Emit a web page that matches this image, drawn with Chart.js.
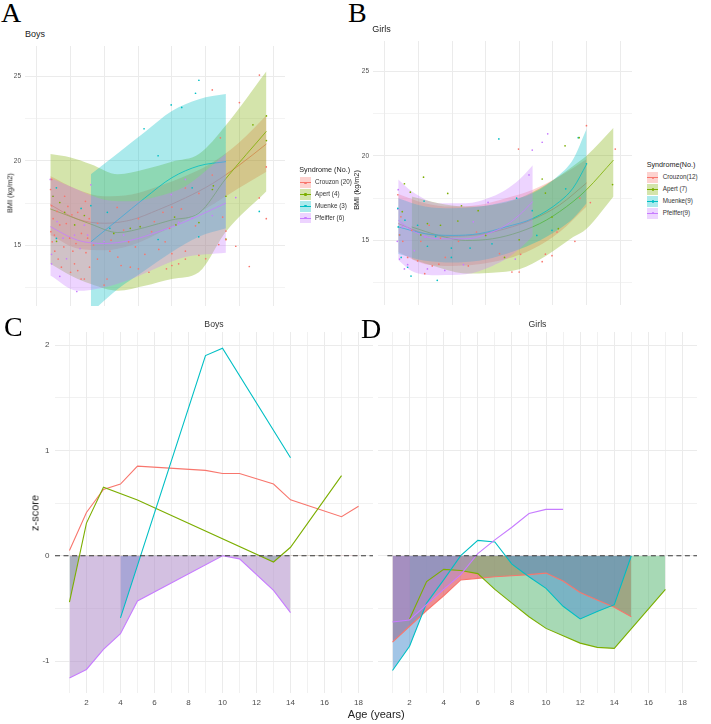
<!DOCTYPE html>
<html><head><meta charset="utf-8">
<script src="https://cdn.jsdelivr.net/npm/chart.js@4.4.1/dist/chart.umd.min.js"></script>
<style>
html,body{margin:0;padding:0;background:#fff}
body{width:711px;height:724px;position:relative;overflow:hidden;font-family:"Liberation Sans",Arial,Helvetica,sans-serif;color:#222}
canvas{position:absolute}
.t{position:absolute;white-space:nowrap;line-height:1;font-weight:400}
.big{font-family:"Liberation Serif","Times New Roman",serif;font-size:28px;color:#000}
.rot{transform:translate(-50%,-50%) rotate(-90deg)}
.ctr{transform:translateX(-50%)}
.key{position:absolute;width:11px;height:10.5px}
.key i{position:absolute;left:0;right:0;top:4.9px;height:0.8px}
.key b{position:absolute;left:4.4px;top:4.2px;width:2.2px;height:2.2px;border-radius:50%}
</style></head>
<body>
<canvas id="cA" width="289" height="268" style="left:0px;top:42px;width:289px;height:268px"></canvas>
<canvas id="cB" width="288" height="272" style="left:348px;top:37px;width:288px;height:272px"></canvas>
<canvas id="cC" width="353" height="379" style="left:20px;top:332px;width:353px;height:379px"></canvas>
<canvas id="cD" width="319" height="379" style="left:378px;top:332px;width:319px;height:379px"></canvas>

<div class="t big" style="left:1px;top:-1px">A</div>
<div class="t big" style="left:348px;top:-1px">B</div>
<div class="t big" style="left:4px;top:312.5px">C</div>
<div class="t big" style="left:361px;top:314.5px">D</div>

<div class="t" style="left:25px;top:29.7px;font-size:9px">Boys</div>
<div class="t" style="left:372.3px;top:24.7px;font-size:9px">Girls</div>
<div class="t ctr" style="left:214px;top:319.7px;font-size:8.7px;color:#333">Boys</div>
<div class="t ctr" style="left:537.5px;top:319.7px;font-size:8.7px;color:#333">Girls</div>

<div class="t rot" style="left:10px;top:193px;font-size:7.3px">BMI (kg/m2)</div>
<div class="t rot" style="left:357px;top:190px;font-size:7.3px">BMI (kg/m2)</div>
<div class="t rot" style="left:34.7px;top:512.5px;font-size:11px">z-score</div>
<div class="t ctr" style="left:376.3px;top:709.2px;font-size:11px">Age (years)</div>

<div id="legA"></div>
<div id="legB"></div>

<script>
// ---------- colours ----------
const COL = {crouzon:'#F8766D', apert:'#7CAE00', muenke:'#00BFC4', pfeiffer:'#C77CFF'};
const RIB = {crouzon:'rgba(248,118,109,0.33)', apert:'rgba(124,174,0,0.33)', muenke:'rgba(0,191,196,0.33)', pfeiffer:'rgba(199,124,255,0.33)'};
const ZFILL = {crouzon:'rgba(220,50,60,0.55)', apert:'rgba(95,185,120,0.55)', muenke:'rgba(85,150,210,0.55)', pfeiffer:'rgba(175,140,200,0.55)'};

// ---------- Panel A: Boys BMI (smooth fit + 95% band) ----------
const aCrouzonAge = [1,3,5,7,9,11,13,15,17];
const aCrouzonFit = [17.4,16.55,16.3,16.5,17.1,17.8,18.65,19.75,21.0];
const aCrouzonLo  = [15.6,14.8,14.7,15.0,15.7,16.5,17.4,18.4,19.35];
const aCrouzonHi  = [19.1,18.3,17.9,18.0,18.5,19.1,19.9,21.1,22.7];
const aApertAge = [1,2.5,4,6,8,10,12,14,17];
const aApertFit = [17.15,16.7,16.25,15.75,16.05,16.5,16.9,18.95,21.75];
const aApertLo  = [13.9,13.2,12.7,12.3,12.6,13.0,13.4,15.8,18.2];
const aApertHi  = [20.4,20.2,19.8,19.2,19.5,19.95,20.4,22.1,25.3];
const aMuenkeAge = [4,6,8,10,12,14];
const aMuenkeFit = [15.2,16.5,17.8,19.0,19.7,19.95];
const aMuenkeLo  = [11.0,12.4,13.5,14.6,15.5,16.0];
const aMuenkeHi  = [19.2,20.45,21.7,22.95,23.65,23.95];
const aPfeifferAge = [1,3,5,7,9,11,14];
const aPfeifferFit = [16.1,15.3,15.1,15.3,15.8,16.4,17.5];
const aPfeifferLo  = [13.2,12.3,12.5,13.0,13.7,14.3,14.56];
const aPfeifferHi  = [19.0,18.3,17.7,17.6,17.9,18.5,20.4];

// Panel A observed points
const aCrouzonPtAge = [1.02,1.09,1.21,1.04,1.14,1.33,1.58,1.82,2.06,2.18,2.43,2.67,2.79,3.03,3.28,3.52,3.64,3.76,3.88,3.03,1.1,1.5,1.7,2.3,2.6,2.9,3.3,3.6,1.3,2.0,2.5,3.9,4.5,4.2,4.49,4.98,5.2,5.41,5.5,5.95,6.0,6.24,6.43,6.8,6.92,7.3,7.52,7.52,8.0,8.3,8.5,8.7,9.03,9.34,9.5,9.6,9.83,10.0,10.0,10.0,10.5,10.7,11.0,11.0,11.0,11.75,12.0,12.0,12.5,12.99,12.99,13.47,13.59,13.76,14.0,14.0,14.73,15.0,15.73,16.47,16.48,16.99,16.99];
const aCrouzonPtBmi = [18.3,17.34,16.57,15.8,15.2,14.65,14.18,13.7,17.9,16.28,15.42,14.65,13.9,13.5,13.0,13.0,14.56,15.42,16.57,16.95,18.9,17.0,16.2,17.3,16.8,15.1,15.7,17.6,15.6,14.9,13.4,13.7,16.3,15.0,14.18,12.64,13.0,14.65,15.3,17.24,14.3,13.8,15.9,15.2,13.7,14.9,13.6,16.57,14.46,13.4,15.8,16.4,14.75,16.95,15.2,13.6,16.0,17.26,14.5,13.8,13.9,17.15,18.39,14.65,14.18,16.15,18.07,14.4,14.2,19.16,24.2,15.04,21.36,16.67,15.84,15.33,14.94,23.45,13.74,17.8,25.08,19.64,16.57];
const aApertPtAge = [1.2,1.46,1.7,2.06,2.8,3.52,5.7,6.92,7.65,10.2,10.3,12.0,13.0,13.07,14.0,14.0,16.0,17.0,17.0];
const aApertPtBmi = [17.9,15.23,17.53,16.95,16.2,16.76,15.7,16.0,16.1,16.67,16.2,16.34,18.3,18.52,17.9,15.36,22.13,22.66,21.2];
const aMuenkePtAge = [1.45,1.45,3.28,4.0,5.22,5.41,7.94,8.98,8.98,9.95,10.73,11.5,11.75,11.99,12.0,16.47];
const aMuenkePtBmi = [18.4,15.4,17.18,17.34,16.95,16.0,21.9,20.3,15.34,23.31,23.16,18.4,24.0,15.5,24.77,17.0];
const aPfeifferPtAge = [1.0,1.09,1.09,1.21,1.5,1.7,1.94,2.2,2.79,2.96,3.2,3.52,3.76,4.0,4.98,6.43,9.95,10.5,11.0,11.5,12.99,14.73];
const aPfeifferPtBmi = [18.9,14.46,13.9,17.9,16.4,13.16,15.42,14.2,15.6,12.26,14.8,16.19,15.6,18.58,15.23,15.6,18.0,16.35,18.9,16.6,16.76,17.82];

// ---------- Panel B: Girls BMI ----------
const bCrouzonAge = [1,3,5,7,9,11,13,15];
const bCrouzonFit = [16.0,15.4,15.25,15.35,15.7,16.25,17.1,18.4];
const bCrouzonLo  = [14.3,13.6,13.5,13.6,13.9,14.5,15.5,17.0];
const bCrouzonHi  = [17.75,17.2,17.0,17.1,17.5,18.0,18.8,19.8];
const bApertAge = [2,4,6,8,10,12,14,15,17];
const bApertFit = [15.8,15.3,15.0,15.1,15.5,16.2,17.3,18.0,19.75];
const bApertLo  = [13.9,13.4,13.05,13.1,13.3,14.1,15.2,15.7,17.6];
const bApertHi  = [17.6,17.2,17.0,17.1,17.5,18.3,19.4,20.0,21.65];
const bMuenkeAge = [1,3,5,7,9,11,13,14,15];
const bMuenkeFit = [15.8,15.4,15.3,15.4,15.8,16.3,17.3,18.1,19.5];
const bMuenkeLo  = [14.2,13.8,13.7,13.8,14.2,14.8,15.7,16.3,17.2];
const bMuenkeHi  = [17.5,17.0,16.9,17.0,17.3,17.8,18.9,19.8,21.6];
const bPfeifferAge = [1,2,4,6,8,9,10,11];
const bPfeifferFit = [16.2,15.6,15.1,15.1,15.5,15.9,16.5,17.3];
const bPfeifferLo  = [13.85,13.2,12.95,13.0,13.5,13.9,14.5,15.25];
const bPfeifferHi  = [18.6,17.9,17.2,17.2,17.6,18.0,18.6,19.45];

const bCrouzonPtAge = [0.97,1.1,1.2,1.34,1.7,2.0,2.44,2.68,2.97,3.3,3.53,4.02,4.14,4.5,5.48,6.21,6.82,8.53,9.45,9.94,9.99,10.1,11.7,11.94,12.43,12.8,14.13,14.5,14.99,15.28,17.13];
const bCrouzonPtBmi = [17.7,15.33,16.4,14.95,14.0,15.6,13.8,14.95,13.04,15.9,13.5,13.6,15.14,14.0,14.95,13.5,15.5,14.22,13.14,20.4,13.14,14.18,13.75,14.19,14.1,15.5,14.95,17.5,21.78,17.24,20.4];
const bApertPtAge = [1.3,1.46,1.9,2.68,2.88,3.17,4.14,4.68,5.43,5.7,6.94,7.5,8.9,9.99,11.7,11.94,12.43,12.9,13.4,14.45,16.93];
const bApertPtBmi = [16.7,18.35,17.85,15.33,18.74,16.0,15.9,17.78,16.15,17.05,16.76,15.3,14.0,15.04,18.63,17.8,16.38,15.7,20.59,21.07,18.3];
const bMuenkePtAge = [0.97,1.0,1.1,1.22,1.5,1.7,1.95,2.44,2.92,3.17,3.78,3.9,4.95,4.95,6.34,7.97,8.48,9.8,10.96,11.3,12.43,13.45,14.38,14.99];
const bMuenkePtBmi = [16.9,15.8,15.33,14.0,16.2,13.42,12.9,15.9,17.33,14.66,15.24,12.65,14.55,14.0,14.55,14.8,21.0,17.5,16.76,15.3,15.6,18.05,21.07,19.53];
const bPfeifferPtAge = [0.93,0.97,1.0,1.1,1.3,1.46,1.7,2.2,3.0,3.17,4.46,5.85,6.58,7.68,9.7,10.72,10.96,11.7,12.11];
const bPfeifferPtBmi = [14.95,16.86,18.0,13.9,15.8,13.32,13.57,14.4,15.2,13.32,13.23,13.57,16.1,17.25,13.9,18.87,20.34,20.8,21.3];

// ---------- Panel C: Boys z-score ----------
const cCrouzonAge = [1,2,3,4,5,9,10,11,13,14,17,18];
const cCrouzonZ   = [0.05,0.41,0.63,0.68,0.85,0.81,0.78,0.78,0.68,0.53,0.37,0.47];
const cApertAge = [1,2,3,5,13,14,17];
const cApertZ   = [-0.44,0.31,0.65,0.53,-0.06,0.08,0.76];
const cMuenkeAge = [4,9,10,14];
const cMuenkeZ   = [-0.59,1.9,1.97,0.93];
const cPfeifferAge = [1,2,3,4,5,10,11,13,14];
const cPfeifferZ   = [-1.16,-1.08,-0.89,-0.74,-0.43,0,-0.03,-0.33,-0.54];

// ---------- Panel D: Girls z-score ----------
const dCrouzonAge = [1,2,3,4,5,6,7,8,9,10,11,12,13,14,15];
const dCrouzonZ   = [-0.82,-0.67,-0.52,-0.38,-0.23,-0.215,-0.2,-0.19,-0.18,-0.165,-0.24,-0.35,-0.42,-0.49,-0.58];
const dApertAge = [2,3,4,5,6,7,8,9,10,11,12,13,14,17];
const dApertZ   = [-0.6,-0.245,-0.13,-0.14,-0.17,-0.32,-0.45,-0.58,-0.69,-0.76,-0.83,-0.87,-0.88,-0.32];
const dMuenkeAge = [1,2,3,4,5,6,7,8,9,10,11,12,13,14,15];
const dMuenkeZ   = [-1.09,-0.86,-0.45,-0.23,0.0,0.146,0.13,-0.08,-0.2,-0.31,-0.48,-0.6,-0.53,-0.465,0.0];
const dPfeifferAge = [1,2,3,4,5,6,7,8,9,10,11];
const dPfeifferZ   = [-0.63,-0.61,-0.465,-0.32,-0.18,0.02,0.15,0.27,0.4,0.44,0.44];

// ---------- axis ticks ----------
const bmiTicks = [12.5,15,17.5,20,22.5,25];
const bmiXGrid = [0,2.5,5,7.5,10,12.5,15,17.5];
const zTicks = [-1,-0.5,0,0.5,1,1.5,2];
const ageTicks = [1,2,3,4,5,6,7,8,9,10,11,12,13,14,15,16,17,18];

// ---------- helpers ----------
Chart.defaults.font.family = '"Liberation Sans", Arial, Helvetica, sans-serif';
const GRID = '#ebebeb';
function P(xs, ys){ return xs.map((x,i)=>({x:x, y:ys[i]})); }
function noPad(a){ a.paddingTop=0; a.paddingBottom=0; a.paddingLeft=0; a.paddingRight=0; }

function smoothSets(age, lo, hi, fit, key, ord){
  return [
    {data:P(age,lo), borderWidth:0, pointRadius:0, fill:false, order:ord+1, cubicInterpolationMode:'monotone'},
    {data:P(age,hi), borderWidth:0, pointRadius:0, fill:'-1', backgroundColor:RIB[key], order:ord+1, cubicInterpolationMode:'monotone'},
    {data:P(age,fit), borderColor:COL[key], borderWidth:0.8, pointRadius:0, fill:false, order:ord, cubicInterpolationMode:'monotone'}
  ];
}
function pointSet(age, bmi, key){
  return {data:P(age,bmi), showLine:false, pointRadius:0.85, pointBorderWidth:0, pointBackgroundColor:COL[key], borderColor:COL[key], backgroundColor:COL[key], order:1};
}
function bmiChart(id, yMin, yMax, sets){
  return new Chart(document.getElementById(id), {
    type:'line',
    data:{datasets:sets},
    options:{
      responsive:false, animation:false, events:[], devicePixelRatio:1,
      layout:{padding:0},
      plugins:{legend:{display:false}, tooltip:{enabled:false}},
      scales:{
        x:{type:'linear', min:-0.875, max:18.375,
           afterBuildTicks:a=>{a.ticks=bmiXGrid.map(v=>({value:v}));},
           ticks:{display:false}, grid:{color:GRID, lineWidth:1, drawTicks:false}, border:{display:false},
           afterFit:a=>{a.height=0; noPad(a);}},
        y:{type:'linear', min:yMin, max:yMax,
           afterBuildTicks:a=>{a.ticks=bmiTicks.map(v=>({value:v}));},
           ticks:{autoSkip:false, padding:4, color:'#4d4d4d', font:{size:6.5}, callback:v=>(v%5===0?String(v):'')},
           grid:{color:GRID, drawTicks:false, lineWidth:c=>(c.tick && c.tick.value%5===0)?1:0.6},
           border:{display:false},
           afterFit:a=>{a.width=25; noPad(a);}}
      }
    }
  });
}
function zLine(age, z, key, ord){
  return {data:P(age,z), borderColor:COL[key], borderWidth:1.1, pointRadius:0, tension:0, order:ord,
          fill:{target:{value:0}, above:'rgba(0,0,0,0)', below:ZFILL[key]}};
}
function zChart(id, showY, sets, dashFrom){
  sets.push({data:[{x:dashFrom,y:0},{x:18.85,y:0}], borderColor:'#3a3a3a', borderWidth:1.1, borderDash:[5,3.5], pointRadius:0, fill:false, order:0});
  return new Chart(document.getElementById(id), {
    type:'line',
    data:{datasets:sets},
    options:{
      responsive:false, animation:false, events:[], devicePixelRatio:1,
      layout:{padding:0},
      plugins:{legend:{display:false}, tooltip:{enabled:false}, filler:{drawTime:'beforeDatasetsDraw'}},
      scales:{
        x:{type:'linear', min:0.15, max:18.85,
           afterBuildTicks:a=>{a.ticks=ageTicks.map(v=>({value:v}));},
           ticks:{autoSkip:false, maxRotation:0, padding:5, color:'#4d4d4d', font:{size:8}, callback:v=>(v%2===0?String(v):'')},
           grid:{color:GRID, drawTicks:false, lineWidth:c=>(c.tick && c.tick.value%2===0)?1:0.7},
           border:{display:false},
           afterFit:a=>{a.height=18; noPad(a);}},
        y:{type:'linear', min:-1.3035, max:2.124,
           afterBuildTicks:a=>{a.ticks=zTicks.map(v=>({value:v}));},
           ticks:{display:showY, autoSkip:false, padding:5.5, color:'#4d4d4d', font:{size:8}, callback:v=>(Number.isInteger(v)?String(v):'')},
           grid:{color:GRID, drawTicks:false, lineWidth:c=>(c.tick && Number.isInteger(c.tick.value))?1:0.7},
           border:{display:false},
           afterFit:a=>{a.width=showY?35:0; noPad(a);}}
      }
    }
  });
}

// ---------- build charts ----------
bmiChart('cA', 11.40, 26.80, [].concat(
  smoothSets(aCrouzonAge, aCrouzonLo, aCrouzonHi, aCrouzonFit, 'crouzon', 19),
  smoothSets(aApertAge, aApertLo, aApertHi, aApertFit, 'apert', 16),
  smoothSets(aMuenkeAge, aMuenkeLo, aMuenkeHi, aMuenkeFit, 'muenke', 13),
  smoothSets(aPfeifferAge, aPfeifferLo, aPfeifferHi, aPfeifferFit, 'pfeiffer', 10),
  [pointSet(aCrouzonPtAge, aCrouzonPtBmi, 'crouzon'), pointSet(aApertPtAge, aApertPtBmi, 'apert'),
   pointSet(aMuenkePtAge, aMuenkePtBmi, 'muenke'), pointSet(aPfeifferPtAge, aPfeifferPtBmi, 'pfeiffer')]
));
bmiChart('cB', 11.19, 26.78, [].concat(
  smoothSets(bCrouzonAge, bCrouzonLo, bCrouzonHi, bCrouzonFit, 'crouzon', 19),
  smoothSets(bApertAge, bApertLo, bApertHi, bApertFit, 'apert', 16),
  smoothSets(bMuenkeAge, bMuenkeLo, bMuenkeHi, bMuenkeFit, 'muenke', 13),
  smoothSets(bPfeifferAge, bPfeifferLo, bPfeifferHi, bPfeifferFit, 'pfeiffer', 10),
  [pointSet(bCrouzonPtAge, bCrouzonPtBmi, 'crouzon'), pointSet(bApertPtAge, bApertPtBmi, 'apert'),
   pointSet(bMuenkePtAge, bMuenkePtBmi, 'muenke'), pointSet(bPfeifferPtAge, bPfeifferPtBmi, 'pfeiffer')]
));
zChart('cC', true, [
  zLine(cCrouzonAge, cCrouzonZ, 'crouzon', 4),
  zLine(cApertAge, cApertZ, 'apert', 3),
  zLine(cMuenkeAge, cMuenkeZ, 'muenke', 2),
  zLine(cPfeifferAge, cPfeifferZ, 'pfeiffer', 1)
], 0.15);
zChart('cD', false, [
  zLine(dCrouzonAge, dCrouzonZ, 'crouzon', 4),
  zLine(dApertAge, dApertZ, 'apert', 3),
  zLine(dMuenkeAge, dMuenkeZ, 'muenke', 2),
  zLine(dPfeifferAge, dPfeifferZ, 'pfeiffer', 1)
], 0.7);

// ---------- legends ----------
const legendTitleA = 'Syndrome (No.)';
const legendLabelsA = ['Crouzon (20)','Apert (4)','Muenke (3)','Pfeiffer (6)'];
const legendTitleB = 'Syndrome(No.)';
const legendLabelsB = ['Crouzon(12)','Apert (7)','Muenke(9)','Pfeiffer(9)'];
const legendKeys = ['crouzon','apert','muenke','pfeiffer'];
function legend(el, x, titleY, firstY, step, labX, title, labels){
  let h = '<div class="t" style="left:'+x+'px;top:'+titleY+'px;font-size:7.2px">'+title+'</div>';
  labels.forEach((lab,i)=>{
    const cy = firstY + i*step, k = legendKeys[i];
    h += '<div class="key" style="left:'+(x+0.7)+'px;top:'+(cy-5.25)+'px;background:'+RIB[k]+'"><i style="background:'+COL[k]+'"></i><b style="background:'+COL[k]+'"></b></div>';
    h += '<div class="t" style="left:'+labX+'px;top:'+(cy-3.4)+'px;font-size:6.3px;color:#333">'+lab+'</div>';
  });
  document.getElementById(el).innerHTML = h;
}
legend('legA', 299.3, 166.4, 182.6, 11.85, 315, legendTitleA, legendLabelsA);
legend('legB', 646.7, 161.4, 177.7, 11.85, 662.7, legendTitleB, legendLabelsB);
</script>
</body></html>
